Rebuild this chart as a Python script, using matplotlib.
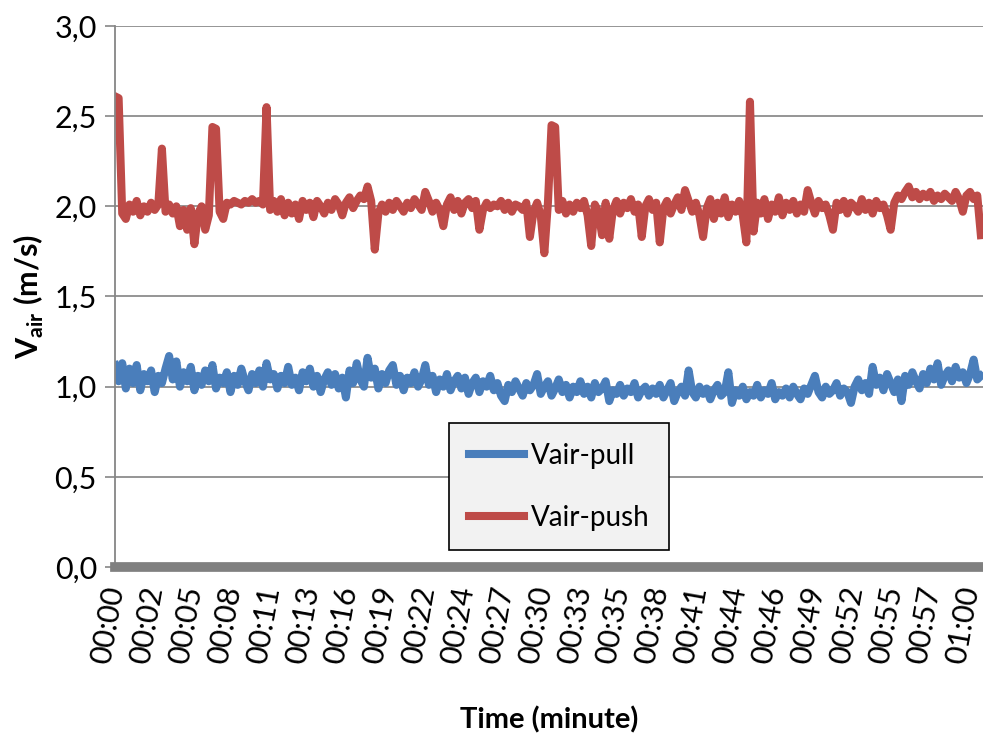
import numpy as np
import matplotlib.pyplot as plt

plt.rcParams['font.family'] = ['Lato', 'DejaVu Sans']
plt.rcParams['mathtext.fontset'] = 'custom'
plt.rcParams['mathtext.rm'] = 'Lato:bold'

# air velocity readings, evenly spaced over just over one hour
v_push = [2.61, 2.60, 1.96, 1.93, 2.01, 1.97, 2.03, 1.95, 2.00, 1.97,
          2.02, 1.98, 2.01, 2.32, 1.97, 2.01, 1.96, 2.00, 1.89, 1.98,
          1.87, 1.99, 1.79, 1.96, 2.00, 1.87, 1.95, 2.44, 2.43, 1.97,
          1.93, 2.02, 2.01, 2.03, 2.02, 2.01, 2.03, 2.02, 2.04, 2.02,
          2.03, 2.01, 2.55, 1.98, 2.03, 1.97, 2.04, 1.95, 2.02, 1.96,
          2.01, 1.93, 2.03, 1.98, 2.02, 1.94, 2.03, 2.00, 1.96, 2.02,
          1.98, 2.04, 2.01, 1.95, 2.02, 2.05, 1.99, 2.03, 2.06, 2.04,
          2.11, 2.03, 1.76, 1.96, 2.01, 1.97, 2.02, 1.98, 2.03, 2.00,
          1.97, 2.02, 1.99, 2.04, 2.01, 1.98, 2.08, 2.03, 1.97, 2.02,
          1.98, 1.89, 2.01, 2.05, 1.98, 2.03, 1.96, 2.02, 2.04, 1.99,
          2.03, 1.87, 1.98, 2.02, 1.99, 2.01, 2.00, 2.03, 1.98, 2.02,
          1.97, 2.01, 2.00, 1.98, 2.02, 1.83, 1.97, 2.02, 1.95, 1.74,
          2.02, 2.45, 2.44, 1.98, 2.03, 1.96, 2.01, 1.97, 2.02, 1.99,
          2.03, 1.95, 1.78, 2.01, 1.97, 1.84, 2.02, 1.82, 1.98, 2.03,
          1.96, 2.02, 1.99, 2.04, 1.97, 2.01, 1.83, 2.00, 2.04, 1.98,
          2.02, 1.80, 1.99, 2.03, 1.96, 2.01, 2.05, 1.98, 2.09, 2.03,
          1.97, 2.02, 1.95, 1.83, 1.99, 2.04, 1.93, 2.02, 1.96, 2.05,
          1.94, 2.01, 1.97, 2.03, 1.95, 1.80, 2.58, 1.86, 2.02, 1.96,
          2.04, 1.93, 2.01, 1.97, 2.05, 1.95, 2.02, 1.98, 2.03, 1.96,
          2.01, 1.97, 2.09, 2.02, 1.96, 2.03, 1.99, 2.01, 1.95, 1.87,
          2.02, 1.98, 2.03, 1.96, 2.02, 2.00, 1.97, 2.04, 1.98, 2.02,
          1.96, 2.03, 1.99, 2.01, 1.95, 1.87, 2.02, 2.06, 2.04, 2.08,
          2.11, 2.05, 2.08, 2.04, 2.07, 2.05, 2.08, 2.03, 2.06, 2.04,
          2.07, 2.05, 2.03, 2.08, 2.04, 1.97, 2.06, 2.08, 2.04, 2.06,
          1.84]

v_pull = [1.12, 1.03, 1.13, 0.99, 1.10, 1.02, 1.12, 0.98, 1.07, 1.03,
          1.09, 0.97, 1.06, 1.02, 1.10, 1.17, 1.04, 1.14, 1.00, 1.08,
          1.03, 1.11, 0.98, 1.06, 1.01, 1.09, 1.03, 1.12, 0.99, 1.05,
          1.02, 1.08, 0.97, 1.06, 1.01, 1.10, 1.03, 0.98, 1.07, 1.02,
          1.09, 1.00, 1.13, 1.04, 1.07, 0.99, 1.06, 1.02, 1.11, 1.01,
          1.05, 0.98, 1.08, 1.03, 1.10, 1.00, 1.06, 0.97, 1.04, 1.08,
          1.01, 1.07, 0.99, 1.05, 0.94, 1.09, 1.02, 1.13, 1.04, 1.00,
          1.16, 1.05, 1.10, 0.99, 1.07, 1.02, 1.09, 1.12, 1.01, 1.06,
          0.98, 1.05, 1.02, 1.08, 1.00, 1.04, 1.12, 1.01, 1.06, 0.97,
          1.04, 1.00, 1.07, 0.98, 1.03, 1.06, 0.99, 1.05, 0.96, 1.02,
          1.05, 0.97, 1.03, 1.00, 1.06, 0.98, 1.02, 0.95, 0.92, 1.01,
          0.97, 1.03, 0.99, 0.95, 1.02, 0.98, 1.01, 1.07, 0.96, 1.00,
          1.03, 0.95, 0.99, 1.04, 0.97, 1.01, 0.94, 1.00, 0.97, 1.03,
          0.96, 1.00, 0.94, 1.02, 0.97, 0.99, 1.03, 0.92, 0.98, 0.96,
          1.01, 0.95, 0.99, 0.97, 1.02, 0.94, 0.98, 1.00, 0.95, 0.99,
          0.96, 1.01, 0.94, 0.98, 1.02, 0.92, 0.97, 1.00, 0.95, 1.09,
          0.97, 0.94, 1.00, 0.96, 0.99, 0.93, 0.98, 1.01, 0.95, 0.97,
          1.08, 0.91, 0.98, 0.95, 1.00, 0.93, 0.97, 0.95, 1.01, 0.94,
          0.98, 0.96, 1.02, 0.93, 0.97, 0.95, 0.99, 0.94, 1.00, 0.96,
          0.93, 0.99, 0.96, 1.01, 1.06, 0.97, 0.94, 1.00, 0.96, 0.98,
          1.02, 0.95, 0.99, 0.97, 0.91, 1.00, 1.04, 0.98, 1.02, 0.96,
          1.11, 1.01, 1.05, 0.98, 1.07, 1.02, 0.97, 1.04, 0.92, 1.06,
          1.01, 1.08, 1.03, 0.99, 1.07, 1.02, 1.10, 1.04, 1.13, 1.01,
          1.06, 1.09, 1.03, 1.11, 1.05, 1.08, 1.02, 1.07, 1.15, 1.04,
          1.06]

tick_labels = ['00:00', '00:02', '00:05', '00:08', '00:11', '00:13', '00:16',
               '00:19', '00:22', '00:24', '00:27', '00:30', '00:33', '00:35',
               '00:38', '00:41', '00:44', '00:46', '00:49', '00:52', '00:55',
               '00:57', '01:00']

t = np.linspace(0, 60.75, len(v_push))  # minutes

fig = plt.figure(figsize=(9.83, 7.36), dpi=100)
ax = fig.add_axes([0.117, 0.2296, 0.883, 0.7351])

ax.plot(t, v_pull, c='#4a7ebb', lw=5.8, label='Vair-pull')
ax.plot(t, v_push, c='#be4b48', lw=5.8, label='Vair-push')

ax.set_xlim(0, 60.9)
ax.set_ylim(0, 3)
yt = np.arange(0, 3.01, 0.5)
ax.set_yticks(yt)
ax.set_yticklabels([f'{v:.1f}'.replace('.', ',') for v in yt], fontsize=22)
ax.set_xticks(np.linspace(0, 60, len(tick_labels)))
ax.set_xticklabels(tick_labels, rotation=80, fontsize=22, ha='right',
                   va='center', rotation_mode='anchor')
ax.tick_params(axis='x', length=0, pad=14)
ax.tick_params(axis='y', length=7, width=1.2, color='#868686', pad=6)

ax.grid(axis='y', color='#8c8c8c', lw=1.3)
ax.set_axisbelow(True)
for s in ['top', 'right']:
    ax.spines[s].set_visible(False)
ax.spines['left'].set_color('#868686')
ax.spines['left'].set_linewidth(1.3)
ax.spines['bottom'].set_color('#808080')
ax.spines['bottom'].set_linewidth(7)

ax.set_ylabel(r'V$_{\mathrm{air}}$ (m/s)', fontsize=22, fontweight='bold',
              labelpad=6)
ax.set_xlabel('Time (minute)', fontsize=21, fontweight='bold', labelpad=29)

leg = ax.legend(loc='lower left', bbox_to_anchor=(0.385, 0.031), fontsize=20,
                frameon=True, fancybox=False, framealpha=1, handlelength=2.0,
                handletextpad=0.25, labelspacing=1.3, borderpad=0.7,
                borderaxespad=0)
leg.get_frame().set_facecolor('#f2f2f2')
leg.get_frame().set_edgecolor('black')
leg.get_frame().set_linewidth(1.2)

fig.savefig('out.png', dpi=100)
